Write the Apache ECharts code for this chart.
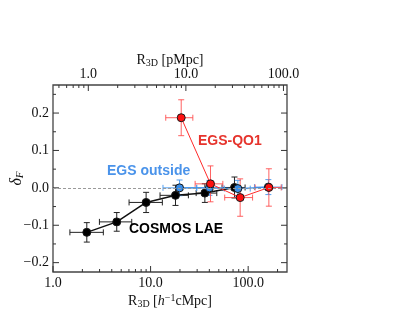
<!DOCTYPE html>
<html><head><meta charset="utf-8">
<script src="https://cdn.jsdelivr.net/npm/echarts@6/dist/echarts.min.js"></script>
<style>html,body{margin:0;padding:0;background:#fff}#c{width:415px;height:312px}</style>
</head><body><div id="c"></div><script>
// ---- data ----
const cosmosR     = [2.22, 4.5, 9.0, 18.0, 36.0, 72.4];
const cosmosRLo   = [1.49, 2.99, 6.02, 12.5, 29.3, 54];
const cosmosRHi   = [3.28, 6.41, 13.2, 24.4, 47.7, 93];
const cosmosDelta = [-0.119, -0.091, -0.039, -0.020, -0.014, 0.001];
const cosmosErr   = [0.026, 0.025, 0.027, 0.027, 0.025, 0.028];

const outsideR     = [19.8, 40.1, 78.4, 161];
const outsideRLo   = [13.4, 29.5, 57, 116];
const outsideRHi   = [29.8, 55, 105, 222];
const outsideDelta = [0.0, 0.0, -0.002, 0.002];
const outsideErr   = [0.021, 0.02, 0.022, 0.02];

const qo1R     = [20.6, 41.1, 82.8, 163];
const qo1RLo   = [14.3, 28.6, 57.5, 118];
const qo1RHi   = [27.1, 55, 111, 218];
const qo1Delta = [0.1875, 0.0107, -0.026, 0.001];
const qo1Err   = [0.048, 0.048, 0.05, 0.05];

const cMpcPerPMpc = 2.3;
const xMin = 1, xMax = 250;
const yMin = -0.225, yMax = 0.275;

const bottomMajorTicks = [1, 10, 100];
const bottomMinorTicks = [2,3,4,5,6,7,8,9,20,30,40,50,60,70,80,90,200];
const topMajorTicks = [1, 10, 100];
const topMinorTicks = [0.5,0.6,0.7,0.8,0.9,2,3,4,5,6,7,8,9,20,30,40,50,60,70,80,90];
const yMajorTicks = [-0.2, -0.1, 0.0, 0.1, 0.2];
const yMinorTicks = [-0.15, -0.05, 0.05, 0.15, 0.25];

// ---- helpers ----
const MAJ = 6, MIN = 3, TICKC = '#333';
function xTickSeries(majors, minors, axisIdx, side) {
  const data = majors.map(v => [v, yMin, MAJ]).concat(minors.map(v => [v, yMin, MIN]));
  return {
    type: 'custom', xAxisIndex: axisIdx, yAxisIndex: 0, silent: true, z: 1,
    encode: {x: 0, y: 1}, data: data,
    renderItem: (params, api) => {
      const cs = params.coordSys;
      const x = api.coord([api.value(0), yMin])[0];
      const L = api.value(2);
      const y0 = side === 'bottom' ? cs.y + cs.height : cs.y;
      const y1 = side === 'bottom' ? y0 - L : y0 + L;
      return {type: 'line', shape: {x1: x, y1: y0, x2: x, y2: y1}, style: {stroke: TICKC, lineWidth: 1}};
    }
  };
}
function yTickSeries(majors, minors) {
  const data = majors.map(v => [xMin, v, MAJ]).concat(minors.map(v => [xMin, v, MIN]));
  return {
    type: 'custom', xAxisIndex: 0, yAxisIndex: 0, silent: true, z: 1,
    encode: {x: 0, y: 1}, data: data,
    renderItem: (params, api) => {
      const cs = params.coordSys;
      const y = api.coord([xMin, api.value(1)])[1];
      const L = api.value(2);
      const xl = cs.x, xr = cs.x + cs.width;
      return {type: 'group', children: [
        {type: 'line', shape: {x1: xl, y1: y, x2: xl + L, y2: y}, style: {stroke: TICKC, lineWidth: 1}},
        {type: 'line', shape: {x1: xr, y1: y, x2: xr - L, y2: y}, style: {stroke: TICKC, lineWidth: 1}}
      ]};
    }
  };
}
function errSeries(r, lo, hi, d, e, color, width) {
  const data = r.map((v, i) => [v, d[i], lo[i], hi[i], d[i] - e[i], d[i] + e[i]]);
  return {
    type: 'custom', silent: true, encode: {x: 0, y: 1}, data: data, z: 2,
    renderItem: (params, api) => {
      const x = api.value(0), y = api.value(1);
      const pL = api.coord([api.value(2), y]), pR = api.coord([api.value(3), y]);
      const pB = api.coord([x, api.value(4)]), pT = api.coord([x, api.value(5)]);
      const c = 3;
      const st = {stroke: color, lineWidth: width};
      return {type: 'group', children: [
        {type: 'line', shape: {x1: pL[0], y1: pL[1], x2: pR[0], y2: pR[1]}, style: st},
        {type: 'line', shape: {x1: pB[0], y1: pB[1], x2: pT[0], y2: pT[1]}, style: st},
        {type: 'line', shape: {x1: pL[0], y1: pL[1] - c, x2: pL[0], y2: pL[1] + c}, style: st},
        {type: 'line', shape: {x1: pR[0], y1: pR[1] - c, x2: pR[0], y2: pR[1] + c}, style: st},
        {type: 'line', shape: {x1: pB[0] - c, y1: pB[1], x2: pB[0] + c, y2: pB[1]}, style: st},
        {type: 'line', shape: {x1: pT[0] - c, y1: pT[1], x2: pT[0] + c, y2: pT[1]}, style: st}
      ]};
    }
  };
}
function lineSeries(r, d, lineColor, fill, lw) {
  return {
    type: 'line', data: r.map((v, i) => [v, d[i]]), z: 3,
    symbol: 'circle', symbolSize: 8, showSymbol: true,
    lineStyle: {color: lineColor, width: lw},
    itemStyle: {color: fill, borderColor: '#1a1a1a', borderWidth: 1},
    emphasis: {disabled: true}, silent: true
  };
}

const serif = 'Liberation Serif';
const fmt = v => Number(v).toFixed(1);
const yfmt = v => (v < -1e-9 ? '\u2212' : '') + Math.abs(v).toFixed(1);
const nameRich = {
  n: {fontFamily: serif, fontSize: 14, color: '#111', lineHeight: 16},
  s: {fontFamily: serif, fontSize: 10, color: '#111', lineHeight: 10, verticalAlign: 'bottom'},
  i: {fontFamily: serif, fontSize: 14, color: '#111', fontStyle: 'italic', lineHeight: 16},
  p: {fontFamily: serif, fontSize: 10, color: '#111', lineHeight: 10, verticalAlign: 'top'}
};

const chart = echarts.init(document.getElementById('c'), null, {renderer: 'canvas'});
const blackSeries = lineSeries(cosmosR, cosmosDelta, '#111', '#000', 1.5);
blackSeries.markLine = {
  silent: true, symbol: 'none', label: {show: false},
  lineStyle: {color: '#9a9a9a', type: [3, 2], width: 1},
  data: [{yAxis: 0}]
};
chart.setOption({
  animation: false,
  backgroundColor: '#fff',
  grid: {left: 53, top: 85, width: 234, height: 187, containLabel: false, outerBoundsMode: 'none',
         show: true, borderColor: '#444', borderWidth: 1.3, backgroundColor: 'transparent'},
  xAxis: [
    {type: 'log', logBase: 10, min: xMin, max: xMax, position: 'bottom',
     axisLine: {show: false}, axisTick: {show: false}, splitLine: {show: false}, minorTick: {show: false},
     axisLabel: {formatter: fmt, fontFamily: serif, fontSize: 14, color: '#111', margin: 4, showMaxLabel: false},
     name: '{n|R}{s|3D}{n| [}{i|h}{p|\u22121}{n|cMpc]}', nameLocation: 'middle', nameGap: 21, nameMoveOverlap: false,
     nameTextStyle: {rich: nameRich}},
    {type: 'log', logBase: 10, min: xMin / cMpcPerPMpc, max: xMax / cMpcPerPMpc, position: 'top',
     axisLine: {show: false}, axisTick: {show: false}, splitLine: {show: false}, minorTick: {show: false},
     axisLabel: {formatter: fmt, fontFamily: serif, fontSize: 14, color: '#111', margin: 4, showMinLabel: false, showMaxLabel: false},
     name: '{n|R}{s|3D}{n| [pMpc]}', nameLocation: 'middle', nameGap: 17, nameMoveOverlap: false,
     nameTextStyle: {rich: nameRich}}
  ],
  yAxis: [
    {type: 'value', min: yMin, max: yMax,
     axisLine: {show: false}, axisTick: {show: false}, splitLine: {show: false},
     axisLabel: {customValues: yMajorTicks, formatter: yfmt, fontFamily: serif, fontSize: 14, color: '#111', margin: 4},
     name: '{d|\u03b4}{f|F}', nameLocation: 'middle', nameGap: 27, nameRotate: 90, nameMoveOverlap: false,
     nameTextStyle: {rich: {
       d: {fontFamily: serif, fontSize: 16, fontStyle: 'italic', color: '#111', lineHeight: 18},
       f: {fontFamily: serif, fontSize: 11, fontStyle: 'italic', color: '#111', lineHeight: 11, verticalAlign: 'bottom'}
     }}}
  ],
  series: [
    xTickSeries(bottomMajorTicks, bottomMinorTicks, 0, 'bottom'),
    xTickSeries(topMajorTicks, topMinorTicks, 1, 'top'),
    yTickSeries(yMajorTicks, yMinorTicks),
    errSeries(cosmosR, cosmosRLo, cosmosRHi, cosmosDelta, cosmosErr, '#222', 1),
    blackSeries,
    errSeries(outsideR, outsideRLo, outsideRHi, outsideDelta, outsideErr, '#55a0f0', 1),
    lineSeries(outsideR, outsideDelta, '#3d8de6', '#3a8ee8', 1.3),
    errSeries(qo1R, qo1RLo, qo1RHi, qo1Delta, qo1Err, 'rgba(255,70,70,0.85)', 1),
    lineSeries(qo1R, qo1Delta, '#ff2a2a', '#ff1010', 1)
  ],
  graphic: [
    {type: 'text', left: 198, top: 134, silent: true, z: 10,
     style: {text: 'EGS-QO1', fill: '#e6332c', font: 'bold 14px "Liberation Sans", Arial, sans-serif'}},
    {type: 'text', left: 107, top: 164, silent: true, z: 10,
     style: {text: 'EGS outside', fill: '#4a93ea', font: 'bold 14px "Liberation Sans", Arial, sans-serif'}},
    {type: 'text', left: 129, top: 222, silent: true, z: 10,
     style: {text: 'COSMOS LAE', fill: '#000', font: 'bold 14px "Liberation Sans", Arial, sans-serif'}}
  ]
});
</script></body></html>
